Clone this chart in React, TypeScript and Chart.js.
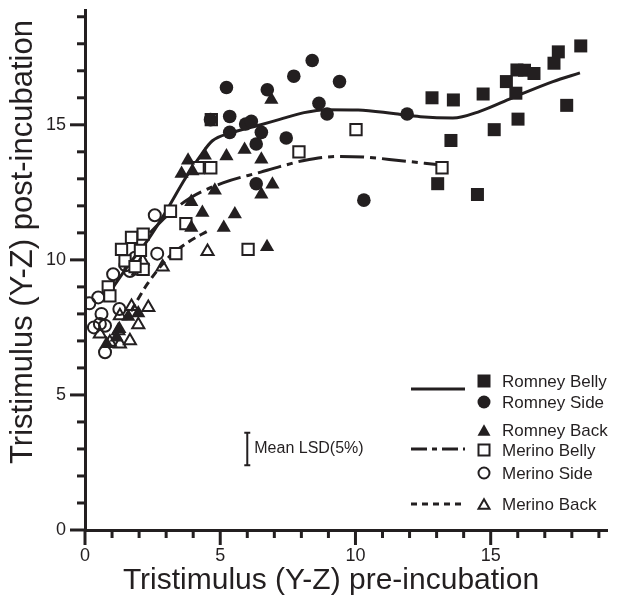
import React, { useEffect, useRef } from 'react';
import { Chart, registerables } from 'chart.js';
Chart.register(...registerables);

const INK = '#231f20';
const FONT = '"Liberation Sans", Arial, Helvetica, sans-serif';

// Scatter data (x = pre-incubation, y = post-incubation)
const ROMNEY_BELLY_X = [12.83, 13.62, 14.72, 15.58, 15.93, 15.97, 16.25, 16.6, 17.34, 17.5, 18.33, 17.81, 16.01, 15.13, 13.53, 13.04, 14.51];
const ROMNEY_BELLY_Y = [16.0, 15.92, 16.14, 16.6, 16.17, 17.03, 17.02, 16.9, 17.28, 17.7, 17.92, 15.72, 15.21, 14.82, 14.42, 12.82, 12.42];

const ROMNEY_SIDE_X = [4.64, 5.23, 5.35, 5.35, 5.94, 6.15, 6.33, 6.52, 6.74, 6.33, 7.44, 7.72, 8.4, 8.65, 8.95, 9.41, 10.31, 11.91];
const ROMNEY_SIDE_Y = [15.19, 16.38, 15.31, 14.72, 15.03, 15.13, 14.29, 14.72, 16.3, 12.82, 14.51, 16.8, 17.38, 15.8, 15.4, 16.6, 12.21, 15.4];

const ROMNEY_BACK_X = [6.89, 3.81, 4.43, 5.23, 5.9, 6.52, 3.57, 3.97, 4.8, 6.52, 6.93, 3.93, 4.34, 5.54, 3.93, 5.13, 6.73, 1.97, 1.27, 1.17, 0.8, 1.6];
const ROMNEY_BACK_Y = [15.93, 13.68, 13.87, 13.84, 14.08, 13.72, 13.19, 13.28, 12.57, 12.42, 12.79, 12.15, 11.75, 11.69, 11.19, 11.19, 10.48, 8.03, 7.44, 7.13, 6.89, 7.9];

const MERINO_BELLY_X = [4.67, 4.18, 4.65, 10.02, 7.91, 13.2, 3.16, 3.73, 6.03, 3.36, 2.15, 1.72, 1.35, 1.48, 2.15, 0.86, 0.92, 1.85, 2.05];
const MERINO_BELLY_Y = [15.19, 13.41, 13.41, 14.82, 14.0, 13.41, 11.8, 11.34, 10.39, 10.23, 10.95, 10.83, 10.39, 9.96, 9.65, 9.0, 8.67, 9.75, 10.35];

const MERINO_SIDE_X = [2.58, 2.67, 1.04, 0.49, 0.16, 1.85, 1.66, 1.27, 0.61, 0.55, 0.33, 0.74, 0.74, 1.5];
const MERINO_SIDE_Y = [11.65, 10.23, 9.47, 8.61, 8.39, 10.08, 9.59, 8.18, 8.0, 7.63, 7.5, 7.56, 6.58, 9.8];

const MERINO_BACK_X = [4.53, 2.87, 2.13, 1.97, 2.34, 1.97, 1.66, 1.29, 0.92, 0.55, 1.72, 1.29, 1.23];
const MERINO_BACK_Y = [10.31, 9.74, 9.96, 9.59, 8.24, 7.6, 7.01, 6.89, 6.95, 7.26, 8.27, 7.93, 7.38];

// Fitted curves
const ROMNEY_FIT_X = [0.98, 1.6, 2.3, 3.0, 3.7, 4.3, 4.7, 5.4, 6.5, 7.2, 8.1, 8.9, 10.1, 11.4, 12.4, 13.6, 14.6, 15.8, 17.3, 18.3];
const ROMNEY_FIT_Y = [8.9, 9.8, 10.7, 11.8, 13.0, 13.9, 14.4, 14.7, 15.0, 15.2, 15.45, 15.56, 15.55, 15.42, 15.3, 15.25, 15.5, 16.0, 16.6, 16.92];

const MERINO_FIT_X = [2.4, 3.0, 3.9, 5.1, 6.5, 7.2, 8.1, 9.4, 10.4, 11.6, 13.0];
const MERINO_FIT_Y = [11.0, 11.6, 12.3, 12.85, 13.25, 13.45, 13.68, 13.83, 13.8, 13.68, 13.53];

const MERINO_BACK_FIT_X = [1.7, 2.3, 3.1, 3.8, 4.6];
const MERINO_BACK_FIT_Y = [8.1, 9.1, 10.1, 10.65, 11.1];

// Mean LSD bar
const LSD_X = 6;
const LSD_LOW = 2.4;
const LSD_HIGH = 3.6;
const LSD_LABEL = 'Mean LSD(5%)';

// Axes
const X_MIN = 0;
const X_MAX = 19.3;
const Y_MIN = 0;
const Y_MAX = 19.25;
const X_TITLE = 'Tristimulus (Y-Z) pre-incubation';
const Y_TITLE = 'Tristimulus (Y-Z) post-incubation';

const LEGEND_LABELS = ['Romney Belly', 'Romney Side', 'Romney Back', 'Merino Belly', 'Merino Side', 'Merino Back'];
const LEGEND_MARKERS = ['sq', 'ci', 'tr', 'osq', 'oci', 'otr'];

const zip = (xs: number[], ys: number[]) => xs.map((x, i) => ({ x, y: ys[i] }));

function drawMarker(ctx: CanvasRenderingContext2D, kind: string, x: number, y: number, s: number) {
  ctx.save();
  ctx.fillStyle = INK;
  ctx.strokeStyle = INK;
  ctx.lineWidth = 2;
  ctx.beginPath();
  const open = kind.startsWith('o');
  const ss = open ? s - 2 : s;
  if (kind === 'sq' || kind === 'osq') {
    ctx.rect(x - ss / 2, y - ss / 2, ss, ss);
  } else if (kind === 'ci' || kind === 'oci') {
    ctx.arc(x, y, ss / 2, 0, Math.PI * 2);
  } else {
    const h = ss * 0.87;
    ctx.moveTo(x, y - h / 2);
    ctx.lineTo(x + ss / 2, y + h / 2);
    ctx.lineTo(x - ss / 2, y + h / 2);
    ctx.closePath();
  }
  if (open) ctx.stroke();
  else ctx.fill();
  ctx.restore();
}

const overlayPlugin = {
  id: 'overlay',
  afterDraw(chart: any) {
    const { ctx, chartArea, scales } = chart;
    const xs = scales.x;
    const ys = scales.y;
    ctx.save();
    ctx.strokeStyle = INK;
    ctx.lineWidth = 3;
    // tick marks
    xs.ticks.forEach((t: any) => {
      const px = xs.getPixelForValue(t.value);
      const len = t.value % 5 === 0 ? 15 : 8;
      ctx.beginPath();
      ctx.moveTo(px, chartArea.bottom);
      ctx.lineTo(px, chartArea.bottom + len);
      ctx.stroke();
    });
    ys.ticks.forEach((t: any) => {
      const py = ys.getPixelForValue(t.value);
      const len = t.value % 5 === 0 ? 15 : 8;
      ctx.beginPath();
      ctx.moveTo(chartArea.left, py);
      ctx.lineTo(chartArea.left - len, py);
      ctx.stroke();
    });

    // axis titles
    ctx.fillStyle = INK;
    ctx.textAlign = 'center';
    ctx.textBaseline = 'middle';
    ctx.font = `30px ${FONT}`;
    ctx.fillText(X_TITLE, 331, 581);
    ctx.save();
    ctx.translate(23, 242);
    ctx.rotate(-Math.PI / 2);
    ctx.font = `31px ${FONT}`;
    ctx.fillText(Y_TITLE, 0, 0);
    ctx.restore();

    // LSD bar
    const lx = xs.getPixelForValue(LSD_X);
    const ly1 = ys.getPixelForValue(LSD_LOW);
    const ly2 = ys.getPixelForValue(LSD_HIGH);
    ctx.lineWidth = 2;
    ctx.beginPath();
    ctx.moveTo(lx, ly1);
    ctx.lineTo(lx, ly2);
    ctx.moveTo(lx - 3, ly1);
    ctx.lineTo(lx + 3, ly1);
    ctx.moveTo(lx - 3, ly2);
    ctx.lineTo(lx + 3, ly2);
    ctx.stroke();
    ctx.font = `16px ${FONT}`;
    ctx.textBaseline = 'middle';
    ctx.textAlign = 'left';
    ctx.fillText(LSD_LABEL, lx + 7, (ly1 + ly2) / 2);

    // legend
    const rowsY = [381, 402, 430, 450, 473, 504];
    const markerX = 484;
    const textX = 502;
    ctx.font = `17px ${FONT}`;
    LEGEND_LABELS.forEach((lab, i) => {
      drawMarker(ctx, LEGEND_MARKERS[i], markerX, rowsY[i], 13);
      ctx.fillStyle = INK;
      ctx.fillText(lab, textX, rowsY[i] + 1);
    });
    const lineSamples: [number, number[]][] = [
      [389, []],
      [449, [16, 5, 5, 5]],
      [504, [6, 5]],
    ];
    ctx.lineWidth = 3;
    lineSamples.forEach(([yy, dash]) => {
      ctx.setLineDash(dash);
      ctx.beginPath();
      ctx.moveTo(411, yy);
      ctx.lineTo(465, yy);
      ctx.stroke();
    });
    ctx.setLineDash([]);
    ctx.restore();
  },
};

export default function App() {
  const ref = useRef<HTMLCanvasElement | null>(null);
  useEffect(() => {
    if (!ref.current) return;
    const scatterBase = {
      type: 'scatter' as const,
      showLine: false,
      borderColor: INK,
      pointBorderColor: INK,
    };
    const chart = new Chart(ref.current, {
      type: 'scatter',
      data: {
        datasets: [
          {
            type: 'line',
            label: 'Romney fit',
            data: zip(ROMNEY_FIT_X, ROMNEY_FIT_Y),
            borderColor: INK,
            borderWidth: 3,
            pointRadius: 0,
            cubicInterpolationMode: 'monotone',
            fill: false,
            order: 10,
          } as any,
          {
            type: 'line',
            label: 'Merino fit',
            data: zip(MERINO_FIT_X, MERINO_FIT_Y),
            borderColor: INK,
            borderWidth: 3,
            borderDash: [24, 6, 6, 6],
            pointRadius: 0,
            cubicInterpolationMode: 'monotone',
            fill: false,
            order: 10,
          } as any,
          {
            type: 'line',
            label: 'Merino back fit',
            data: zip(MERINO_BACK_FIT_X, MERINO_BACK_FIT_Y),
            borderColor: INK,
            borderWidth: 3,
            borderDash: [8, 5],
            pointRadius: 0,
            cubicInterpolationMode: 'monotone',
            fill: false,
            order: 10,
          } as any,
          { ...scatterBase, label: 'Romney Belly', data: zip(ROMNEY_BELLY_X, ROMNEY_BELLY_Y), pointStyle: 'rect', pointRadius: 9.2, pointBackgroundColor: INK, pointBorderWidth: 0 },
          { ...scatterBase, label: 'Romney Side', data: zip(ROMNEY_SIDE_X, ROMNEY_SIDE_Y), pointStyle: 'circle', pointRadius: 6.8, pointBackgroundColor: INK, pointBorderWidth: 0 },
          { ...scatterBase, label: 'Romney Back', data: zip(ROMNEY_BACK_X, ROMNEY_BACK_Y), pointStyle: 'triangle', pointRadius: 8.2, pointBackgroundColor: INK, pointBorderWidth: 0 },
          { ...scatterBase, label: 'Merino Belly', data: zip(MERINO_BELLY_X, MERINO_BELLY_Y), pointStyle: 'rect', pointRadius: 8, pointBackgroundColor: '#ffffff', pointBorderWidth: 2 },
          { ...scatterBase, label: 'Merino Side', data: zip(MERINO_SIDE_X, MERINO_SIDE_Y), pointStyle: 'circle', pointRadius: 6, pointBackgroundColor: 'rgba(255,255,255,0)', pointBorderWidth: 2 },
          { ...scatterBase, label: 'Merino Back', data: zip(MERINO_BACK_X, MERINO_BACK_Y), pointStyle: 'triangle', pointRadius: 7, pointBackgroundColor: 'rgba(255,255,255,0)', pointBorderWidth: 2 },
        ],
      },
      options: {
        responsive: false,
        animation: false,
        events: [],
        layout: { padding: { top: 8, right: 12, left: 0, bottom: 0 } },
        plugins: { legend: { display: false }, tooltip: { enabled: false } },
        scales: {
          x: {
            type: 'linear',
            min: X_MIN,
            max: X_MAX,
            grid: { display: false, drawTicks: false },
            border: { display: true, color: INK, width: 3 },
            ticks: {
              stepSize: 1,
              autoSkip: false,
              includeBounds: false,
              maxRotation: 0,
              padding: 15,
              color: INK,
              font: { family: FONT, size: 18 },
              callback: (v: any) => (Number(v) % 5 === 0 ? String(v) : ''),
            },
            title: { display: false, text: X_TITLE },
            afterFit: (s: any) => { s.height = 78; s.paddingLeft = 0; s.paddingRight = 0; },
          },
          y: {
            type: 'linear',
            min: Y_MIN,
            max: Y_MAX,
            grid: { display: false, drawTicks: false },
            border: { display: true, color: INK, width: 3 },
            ticks: {
              stepSize: 1,
              autoSkip: false,
              includeBounds: false,
              padding: 19,
              color: INK,
              font: { family: FONT, size: 18 },
              callback: (v: any) => (Number(v) % 5 === 0 ? String(v) : ''),
            },
            title: { display: false, text: Y_TITLE },
            afterFit: (s: any) => { s.width = 85; s.paddingTop = 0; s.paddingBottom = 0; },
          },
        },
      },
      plugins: [overlayPlugin],
    } as any);
    return () => chart.destroy();
  }, []);
  return (
    <div style={{ position: 'fixed', left: 0, top: 0, width: 619, height: 608, background: '#fff' }}>
      <canvas ref={ref} width={619} height={608} style={{ display: 'block', width: 619, height: 608 }} />
    </div>
  );
}
